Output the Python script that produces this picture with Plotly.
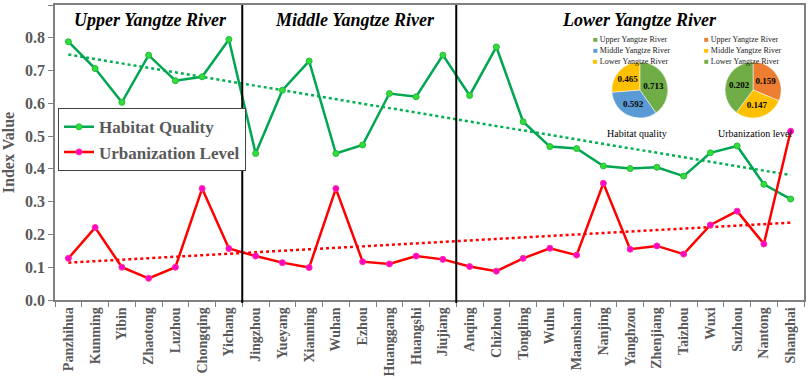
import plotly.graph_objects as go

cities = ["Panzhihua", "Kunming", "Yibin", "Zhaotong", "Luzhou", "Chongqing", "Yichang",
          "Jingzhou", "Yueyang", "Xianning", "Wuhan", "Ezhou", "Huanggang", "Huangshi", "Jiujiang",
          "Anqing", "Chizhou", "Tongling", "Wuhu", "Maanshan", "Nanjing", "Yanghzou", "Zhenjiang",
          "Taizhou", "Wuxi", "Suzhou", "Nantong", "Shanghai"]

habitat_quality = [0.788, 0.706, 0.603, 0.747, 0.669, 0.681, 0.795,
                   0.447, 0.640, 0.729, 0.447, 0.473, 0.630, 0.620, 0.747,
                   0.624, 0.772, 0.544, 0.468, 0.462, 0.409, 0.401, 0.405,
                   0.378, 0.449, 0.470, 0.353, 0.308]

urbanization_level = [0.127, 0.221, 0.100, 0.066, 0.100, 0.340, 0.157,
                      0.134, 0.114, 0.099, 0.340, 0.117, 0.110, 0.134, 0.124,
                      0.102, 0.088, 0.127, 0.158, 0.137, 0.356, 0.155, 0.165,
                      0.140, 0.229, 0.271, 0.171, 0.515]

# trend line end values (first and last city)
hq_trend = [0.749, 0.381]
ul_trend = [0.114, 0.236]

regions = ["Upper Yangtze River", "Middle Yangtze River", "Lower Yangtze River"]
pie_hq_values = [0.713, 0.592, 0.465]
pie_ul_values = [0.159, 0.147, 0.202]
pie_hq_colors = ["#70AD47", "#5B9BD5", "#FFC000"]
pie_ul_colors = ["#ED7D31", "#FFC000", "#70AD47"]

section_titles = ["Upper Yangtze River", "Middle Yangtze River", "Lower Yangtze River"]
separators = [6.5, 14.5]

SERIF = "Liberation Serif"
GRAY = "#595959"
AX = "#808080"

fig = go.Figure()

fig.add_trace(go.Scatter(
    x=[cities[0], cities[-1]], y=hq_trend, mode="lines",
    line=dict(color="#00B050", width=2.5, dash="dot"), showlegend=False, hoverinfo="skip"))
fig.add_trace(go.Scatter(
    x=[cities[0], cities[-1]], y=ul_trend, mode="lines",
    line=dict(color="#FF0000", width=2.5, dash="dot"), showlegend=False, hoverinfo="skip"))

fig.add_trace(go.Scatter(
    x=cities, y=habitat_quality, mode="lines+markers", name="Habitat Quality",
    line=dict(color="#00A651", width=2.5),
    marker=dict(color="#33DD33", size=6, line=dict(color="#22BB44", width=1))))
fig.add_trace(go.Scatter(
    x=cities, y=urbanization_level, mode="lines+markers", name="Urbanization Level",
    line=dict(color="#FF0000", width=2.5),
    marker=dict(color="#FF00CC", size=6, line=dict(color="#FF3399", width=1))))

fig.add_trace(go.Pie(
    labels=regions, values=pie_hq_values, sort=False, direction="clockwise", rotation=0,
    marker=dict(colors=pie_hq_colors, line=dict(color="white", width=0.5)),
    texttemplate="<b>%{value:.3f}</b>", textposition="inside",
    textfont=dict(family=SERIF, size=9, color="black"), insidetextorientation="horizontal",
    domain=dict(x=[0.732, 0.8296], y=[0.617, 0.807]), showlegend=False, hoverinfo="label+value"))
fig.add_trace(go.Pie(
    labels=regions, values=pie_ul_values, sort=False, direction="clockwise", rotation=0,
    marker=dict(colors=pie_ul_colors, line=dict(color="white", width=0.5)),
    texttemplate="<b>%{value:.3f}</b>", textposition="inside",
    textfont=dict(family=SERIF, size=9, color="black"), insidetextorientation="horizontal",
    domain=dict(x=[0.883, 0.981], y=[0.617, 0.807]), showlegend=False, hoverinfo="label+value"))

annotations = []
for title, xp in zip(section_titles, [0.128, 0.401, 0.780]):
    annotations.append(dict(text=f"<b><i>{title}</i></b>", x=xp, y=0.949, xref="paper", yref="paper",
                            xanchor="center", yanchor="middle",
                            showarrow=False, font=dict(family=SERIF, size=18, color="black")))

# pie legends
for colors, x0 in [(pie_hq_colors, 0.716), (pie_ul_colors, 0.864)]:
    for i, (lab, c) in enumerate(zip(regions, colors)):
        annotations.append(dict(
            text=f"<span style='color:{c}'>■</span> {lab}", x=x0, y=0.883 - i * 0.038,
            xref="paper", yref="paper", xanchor="left", yanchor="middle", showarrow=False,
            font=dict(family=SERIF, size=8, color="#222222")))

annotations.append(dict(text="Habitat quality", x=(639 - 55) / 751, y=(300 - 133) / 295,
                        xref="paper", yref="paper", xanchor="center", yanchor="middle",
                        showarrow=False, font=dict(family=SERIF, size=10, color="black")))
annotations.append(dict(text="Urbanization level", x=(757 - 55) / 751, y=(300 - 133) / 295,
                        xref="paper", yref="paper", xanchor="center", yanchor="middle",
                        showarrow=False, font=dict(family=SERIF, size=10, color="black")))

shapes = [dict(type="line", xref="x", yref="paper", x0=s, x1=s, y0=-0.01, y1=1,
               line=dict(color="black", width=2)) for s in separators]

fig.update_layout(
    width=809, height=380,
    margin=dict(l=55, r=3, t=5, b=80),
    plot_bgcolor="white", paper_bgcolor="white",
    annotations=annotations, shapes=shapes,
    legend=dict(x=0.004, y=0.65, xanchor="left", yanchor="top",
                bordercolor="#404040", borderwidth=1, bgcolor="white",
                font=dict(family=SERIF, size=17, color=GRAY, weight="bold"),
                itemwidth=30, tracegroupgap=0),
    xaxis=dict(type="category", categoryorder="array", categoryarray=cities,
               range=[-0.5, len(cities) - 0.5],
               showline=True, linecolor=AX, linewidth=1.5, mirror=True,
               ticks="outside", tickson="boundaries", ticklen=5, tickcolor=AX,
               tickangle=-90, showgrid=False,
               tickfont=dict(family=SERIF, size=14, color=GRAY, weight="bold")),
    yaxis=dict(range=[0, 0.9], dtick=0.1, tickformat=".1f",
               showline=True, linecolor=AX, linewidth=1.5, mirror=True,
               ticks="outside", ticklen=5, tickcolor=AX, showgrid=False, zeroline=False,
               tickfont=dict(family=SERIF, size=16, color=GRAY, weight="bold"),
               title=dict(text="Index Value", standoff=8,
                          font=dict(family=SERIF, size=16, color=GRAY, weight="bold"))),
)

fig.write_html("out.html", config={"displayModeBar": False},
               post_script="document.body.style.margin='0';document.body.style.padding='0';")
